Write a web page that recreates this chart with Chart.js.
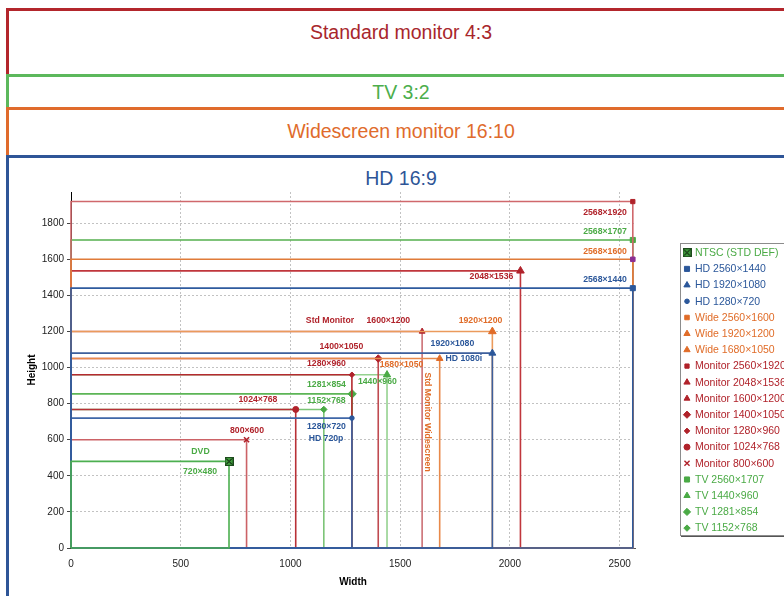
<!DOCTYPE html>
<html lang="en">
  <head>
    <meta charset="UTF-8" />
    <meta name="viewport" content="width=device-width, initial-scale=1.0" />
    <script src="https://cdn.jsdelivr.net/npm/chart.js@4.4.0/dist/chart.umd.min.js"></script>
    <title>Screen resolutions</title>
    <style>
      body {
        margin: 0;
        padding: 0;
        background: #fff;
        width: 784px;
        height: 596px;
        overflow: hidden;
        position: relative;
        font-family: 'Liberation Sans', Arial, sans-serif;
      }

      .band {
        position: absolute;
        left: 6px;
        width: 790px;
        box-sizing: border-box;
        border: 3px solid;
        border-bottom: none;
        text-align: center;
        font-size: 19.5px;
        line-height: 24px;
      }
      .std { top: 8px; height: 70px; padding-top: 9px; border-color: #b3262c; color: #a8262c; }
      .tv { top: 74px; height: 37px; padding-top: 3px; border-color: #5cb85c; color: #4cae4c; }
      .wide { top: 107px; height: 52px; padding-top: 9px; border-color: #e06b2c; color: #e06b2c; }
      .hd { top: 155px; height: 460px; padding-top: 8px; border-color: #2e5597; color: #2e5597; }

      .container {
        position: absolute;
        left: 0;
        top: 0;
        width: 784px;
        height: 596px;
      }
    </style>
  </head>
  <body>
    <div class="band std">Standard monitor 4:3</div>
    <div class="band tv">TV 3:2</div>
    <div class="band wide">Widescreen monitor 16:10</div>
    <div class="band hd">HD 16:9</div>
    <div class="container">
      <canvas id="resChart"></canvas>
    </div>
    <script>
      // resolutions, in legend order
      const names = [
        'NTSC (STD DEF)',
        'HD 2560×1440', 'HD 1920×1080', 'HD 1280×720',
        'Wide 2560×1600', 'Wide 1920×1200', 'Wide 1680×1050',
        'Monitor 2560×1920', 'Monitor 2048×1536', 'Monitor 1600×1200',
        'Monitor 1400×1050', 'Monitor 1280×960', 'Monitor 1024×768', 'Monitor 800×600',
        'TV 2560×1707', 'TV 1440×960', 'TV 1281×854', 'TV 1152×768',
      ]
      const widths = [720, 2560, 1920, 1280, 2560, 1920, 1680, 2560, 2048, 1600, 1400, 1280, 1024, 800, 2560, 1440, 1281, 1152]
      const heights = [480, 1440, 1080, 720, 1600, 1200, 1050, 1920, 1536, 1200, 1050, 960, 768, 600, 1707, 960, 854, 768]
      const groups = ['tv', 'hd', 'hd', 'hd', 'wide', 'wide', 'wide', 'mon', 'mon', 'mon', 'mon', 'mon', 'mon', 'mon', 'tv', 'tv', 'tv', 'tv']

      const xTicks = [0, 500, 1000, 1500, 2000, 2500]
      const yTicks = [0, 200, 400, 600, 800, 1000, 1200, 1400, 1600, 1800]

      // text notes on the plot: [text, x, y, group, align]
      const notes = [
        ['2568×1920', 2533, 1857, 'mon', 'right'],
        ['2568×1707', 2533, 1752, 'tv', 'right'],
        ['2568×1600', 2533, 1641, 'wide', 'right'],
        ['2568×1440', 2533, 1486, 'hd', 'right'],
        ['2048×1536', 1916, 1502, 'mon', 'center'],
        ['Std Monitor', 1180, 1258, 'mon', 'center'],
        ['1600×1200', 1446, 1258, 'mon', 'center'],
        ['1920×1200', 1866, 1258, 'wide', 'center'],
        ['1920×1080', 1738, 1131, 'hd', 'center'],
        ['1400×1050', 1232, 1114, 'mon', 'center'],
        ['HD 1080i', 1790, 1048, 'hd', 'center'],
        ['1680×1050', 1506, 1014, 'wide', 'center'],
        ['1280×960', 1164, 1020, 'mon', 'center'],
        ['1440×960', 1396, 920, 'tv', 'center'],
        ['1281×854', 1164, 906, 'tv', 'center'],
        ['1152×768', 1164, 815, 'tv', 'center'],
        ['1024×768', 852, 820, 'mon', 'center'],
        ['1280×720', 1164, 671, 'hd', 'center'],
        ['HD 720p', 1162, 604, 'hd', 'center'],
        ['800×600', 802, 649, 'mon', 'center'],
        ['DVD', 590, 532, 'tv', 'center'],
        ['720×480', 588, 421, 'tv', 'center'],
      ]
      const sideNote = ['Std Monitor Widescreen', 1622, 698, 'wide']

      // styles
      const textColors = { hd: '#2b579a', wide: '#e06c28', mon: '#b0222a', tv: '#4aaa45' }
      const lineColors = [
        '#4caf50',
        '#2f5b9e', '#3d5f9c', '#3f67a8',
        '#e07b39', '#eb9a5c', '#e8894a',
        '#d0686c', '#c0363c', '#cc7075', '#c04a50', '#b52a30', '#b83036', '#cc6266',
        '#55b04f', '#95d290', '#5cb556', '#7cc477',
      ]
      const pointColors = [
        '#3f9a3c',
        '#2b579a', '#2b579a', '#2b579a',
        '#8b2f93', '#e06c28', '#e06c28',
        '#b0222a', '#b0222a', '#b0222a', '#b0222a', '#b0222a', '#b0222a', '#b0222a',
        '#4aaa45', '#4aaa45', '#4aaa45', '#4aaa45',
      ]
      const markers = ['ntsc', 'rect', 'triangle', 'circle', 'rect', 'triangle', 'triangle', 'rect', 'triangle', 'triangle', 'rectRot', 'rectRot', 'circle', 'crossRot', 'rect', 'triangle', 'rectRot', 'rectRot']
      const markerSizes = [4.5, 3.6, 4, 2.3, 3.2, 4.4, 3.8, 3, 4.4, 3.4, 3.8, 2.8, 3, 3.6, 3.6, 4.2, 4.2, 3.2]

      const family = "'Liberation Sans', Arial, sans-serif"
      Chart.defaults.font.family = family

      // green box with a cross for NTSC
      const ntsc = document.createElement('canvas')
      ntsc.width = 9
      ntsc.height = 9
      const g = ntsc.getContext('2d')
      g.fillStyle = '#3f9a3c'
      g.fillRect(0, 0, 9, 9)
      g.strokeStyle = '#1d4a1d'
      g.lineWidth = 1
      g.strokeRect(0.5, 0.5, 8, 8)
      g.strokeStyle = '#000'
      g.beginPath()
      g.moveTo(1.5, 1.5)
      g.lineTo(7.5, 7.5)
      g.moveTo(7.5, 1.5)
      g.lineTo(1.5, 7.5)
      g.stroke()

      const styleOf = (i) => (markers[i] === 'ntsc' ? ntsc : markers[i])

      const datasets = names.map((name, i) => ({
        label: name,
        data: [
          { x: 0, y: 0 },
          { x: 0, y: heights[i] },
          { x: widths[i], y: heights[i] },
          { x: widths[i], y: 0 },
          { x: 0, y: 0 },
        ],
        borderColor: lineColors[i],
        borderWidth: 1.6,
        fill: false,
        tension: 0,
        pointStyle: styleOf(i),
        pointRadius: (c) => (c.dataIndex === 2 ? markerSizes[i] : 0),
        pointHoverRadius: (c) => (c.dataIndex === 2 ? markerSizes[i] : 0),
        pointBackgroundColor: pointColors[i],
        pointBorderColor: pointColors[i],
        pointBorderWidth: markers[i] === 'crossRot' ? 1.6 : 1,
        clip: 4,
      }))

      const notesPlugin = {
        id: 'notes',
        afterDatasetsDraw(chart) {
          const { ctx, scales } = chart
          ctx.save()
          ctx.font = 'bold 8.7px ' + family
          ctx.textBaseline = 'middle'
          notes.forEach(([text, x, y, grp, align]) => {
            ctx.fillStyle = textColors[grp]
            ctx.textAlign = align
            ctx.fillText(text, scales.x.getPixelForValue(x), scales.y.getPixelForValue(y))
          })
          const [text, x, y, grp] = sideNote
          ctx.translate(scales.x.getPixelForValue(x), scales.y.getPixelForValue(y))
          ctx.rotate(Math.PI / 2)
          ctx.textAlign = 'center'
          ctx.fillStyle = textColors[grp]
          ctx.fillText(text, 0, 0)
          ctx.restore()
        },
      }

      const legendPlugin = {
        id: 'sideLegend',
        afterDraw(chart) {
          const ctx = chart.ctx
          const left = 680
          const top = 243
          const rowH = 16.2
          ctx.save()
          ctx.fillStyle = '#fff'
          ctx.fillRect(left, top, 200, 292)
          ctx.strokeStyle = '#8c8c8c'
          ctx.lineWidth = 1
          ctx.strokeRect(left + 0.5, top + 0.5, 200, 292)
          ctx.strokeStyle = '#555'
          ctx.beginPath()
          ctx.moveTo(left + 1, top + 293.5)
          ctx.lineTo(left + 201, top + 293.5)
          ctx.stroke()
          ctx.font = '10.5px ' + family
          ctx.textBaseline = 'middle'
          ctx.textAlign = 'left'
          names.forEach((name, i) => {
            const y = top + 9.7 + i * rowH
            const col = textColors[groups[i]]
            ctx.fillStyle = markers[i] === 'ntsc' ? '#3f9a3c' : col
            ctx.strokeStyle = ctx.fillStyle
            ctx.lineWidth = markers[i] === 'crossRot' ? 1.4 : 1
            const r = Math.min(markerSizes[i], 3.6)
            if (Chart.helpers && Chart.helpers.drawPoint) {
              Chart.helpers.drawPoint(ctx, { pointStyle: styleOf(i), rotation: 0, radius: r, borderWidth: ctx.lineWidth }, left + 7, y)
            } else {
              ctx.fillRect(left + 4, y - 3, 6, 6)
            }
            ctx.fillStyle = col
            ctx.fillText(name, left + 15, y + 0.5)
          })
          ctx.restore()
        },
      }

      const plain = (v) => String(v)

      const chart = new Chart(document.getElementById('resChart'), {
        type: 'line',
        data: { datasets },
        plugins: [notesPlugin, legendPlugin],
        options: {
          responsive: true,
          maintainAspectRatio: false,
          animation: false,
          events: [],
          layout: { padding: { top: 192, right: 149, bottom: 0, left: 22 } },
          plugins: {
            legend: { display: false },
            tooltip: { enabled: false },
          },
          scales: {
            x: {
              type: 'linear',
              min: 0,
              max: 2570,
              afterFit: (s) => {
                s.height = 48
              },
              afterBuildTicks: (s) => {
                s.ticks = xTicks.map((v) => ({ value: v }))
              },
              ticks: { font: { size: 10 }, color: '#222', padding: 10, maxRotation: 0, autoSkip: false, callback: plain },
              grid: { color: '#c2c2c2', drawTicks: false },
              border: { color: '#555', dash: [2, 2] },
              title: {
                display: true,
                text: 'Width',
                color: '#000',
                font: { size: 10, weight: 'bold' },
                padding: { top: 4, bottom: 8 },
              },
            },
            y: {
              type: 'linear',
              min: 0,
              max: 1973,
              afterFit: (s) => {
                s.width = 49
              },
              afterBuildTicks: (s) => {
                s.ticks = yTicks.map((v) => ({ value: v }))
              },
              ticks: { font: { size: 10 }, color: '#222', padding: 3, autoSkip: false, callback: plain },
              grid: { color: '#c2c2c2', tickLength: 4, tickColor: '#444' },
              border: { color: '#000', dash: [2, 2] },
              title: {
                display: true,
                text: 'Height',
                color: '#000',
                font: { size: 10, weight: 'bold' },
                padding: { top: 4, bottom: 4 },
              },
            },
          },
        },
      })
    </script>
  </body>
</html>
